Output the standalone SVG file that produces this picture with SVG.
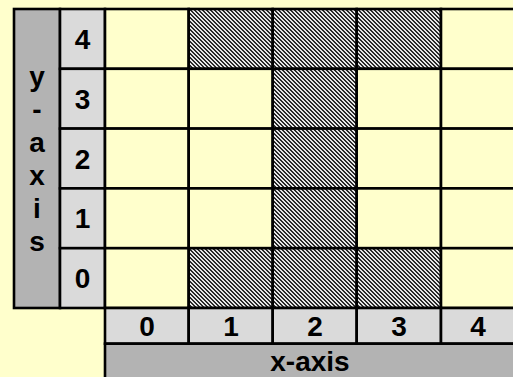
<svg xmlns="http://www.w3.org/2000/svg" width="513" height="377" viewBox="0 0 513 377">
<style>
.c{stroke:#000;stroke-width:2.6}
.ax{fill:#B3B3B3}
.lb{fill:#DADADA}
.y{fill:#FFFFCC}
.h{fill:url(#hatch)}
text{font-family:"Liberation Sans",Arial,sans-serif;font-weight:bold;font-size:28px;fill:#000;text-anchor:middle}
</style>
<defs>
<pattern id="hatch" width="4" height="4" patternUnits="userSpaceOnUse">
<rect width="4" height="4" fill="#e6e6e6"/>
<path d="M0 0h2v1H0zM1 1h2v1H1zM2 2h2v1H2zM3 3h1v1H3zM0 3h1v1H0z" fill="#2a2a2a"/>
</pattern>
</defs>
<rect width="513" height="377" fill="#FFFFCC"/>
<g id="y-axis">
<rect class="c ax" x="14" y="9" width="46" height="299"/>
<text x="37" y="86">y</text>
<text x="37" y="119">-</text>
<text x="37" y="152">a</text>
<text x="37" y="185">x</text>
<text x="37" y="218">i</text>
<text x="37" y="251">s</text>
</g>
<g id="y-labels">
<rect class="c lb" x="60" y="9" width="45" height="59.8"/>
<rect class="c lb" x="60" y="68.8" width="45" height="59.8"/>
<rect class="c lb" x="60" y="128.6" width="45" height="59.8"/>
<rect class="c lb" x="60" y="188.4" width="45" height="59.8"/>
<rect class="c lb" x="60" y="248.2" width="45" height="59.8"/>
<text x="82.5" y="49">4</text>
<text x="82.5" y="108.8">3</text>
<text x="82.5" y="168.5">2</text>
<text x="82.5" y="228.3">1</text>
<text x="82.5" y="288.3">0</text>
</g>
<g id="grid">
<g id="row4">
<rect class="c y" x="105" y="9" width="83.7" height="59.8"/>
<rect class="c h" x="188.7" y="9" width="84" height="59.8"/>
<rect class="c h" x="272.7" y="9" width="84" height="59.8"/>
<rect class="c h" x="356.7" y="9" width="84.3" height="59.8"/>
<rect class="c y" x="441" y="9" width="74" height="59.8"/>
</g>
<g id="row3">
<rect class="c y" x="105" y="68.8" width="83.7" height="59.8"/>
<rect class="c y" x="188.7" y="68.8" width="84" height="59.8"/>
<rect class="c h" x="272.7" y="68.8" width="84" height="59.8"/>
<rect class="c y" x="356.7" y="68.8" width="84.3" height="59.8"/>
<rect class="c y" x="441" y="68.8" width="74" height="59.8"/>
</g>
<g id="row2">
<rect class="c y" x="105" y="128.6" width="83.7" height="59.8"/>
<rect class="c y" x="188.7" y="128.6" width="84" height="59.8"/>
<rect class="c h" x="272.7" y="128.6" width="84" height="59.8"/>
<rect class="c y" x="356.7" y="128.6" width="84.3" height="59.8"/>
<rect class="c y" x="441" y="128.6" width="74" height="59.8"/>
</g>
<g id="row1">
<rect class="c y" x="105" y="188.4" width="83.7" height="59.8"/>
<rect class="c y" x="188.7" y="188.4" width="84" height="59.8"/>
<rect class="c h" x="272.7" y="188.4" width="84" height="59.8"/>
<rect class="c y" x="356.7" y="188.4" width="84.3" height="59.8"/>
<rect class="c y" x="441" y="188.4" width="74" height="59.8"/>
</g>
<g id="row0">
<rect class="c y" x="105" y="248.2" width="83.7" height="59.8"/>
<rect class="c h" x="188.7" y="248.2" width="84" height="59.8"/>
<rect class="c h" x="272.7" y="248.2" width="84" height="59.8"/>
<rect class="c h" x="356.7" y="248.2" width="84.3" height="59.8"/>
<rect class="c y" x="441" y="248.2" width="74" height="59.8"/>
</g>
</g>
<g id="x-labels">
<rect class="c lb" x="105" y="308" width="83.7" height="35.7"/>
<rect class="c lb" x="188.7" y="308" width="84" height="35.7"/>
<rect class="c lb" x="272.7" y="308" width="84" height="35.7"/>
<rect class="c lb" x="356.7" y="308" width="84.3" height="35.7"/>
<rect class="c lb" x="441" y="308" width="74" height="35.7"/>
<text x="147" y="335.5">0</text>
<text x="231" y="335.5">1</text>
<text x="315" y="335.5">2</text>
<text x="399" y="335.5">3</text>
<text x="478" y="335.5">4</text>
</g>
<g id="x-axis">
<rect class="c ax" x="105" y="343.7" width="410" height="40"/>
<text x="310" y="370.5">x-axis</text>
</g>
</svg>
